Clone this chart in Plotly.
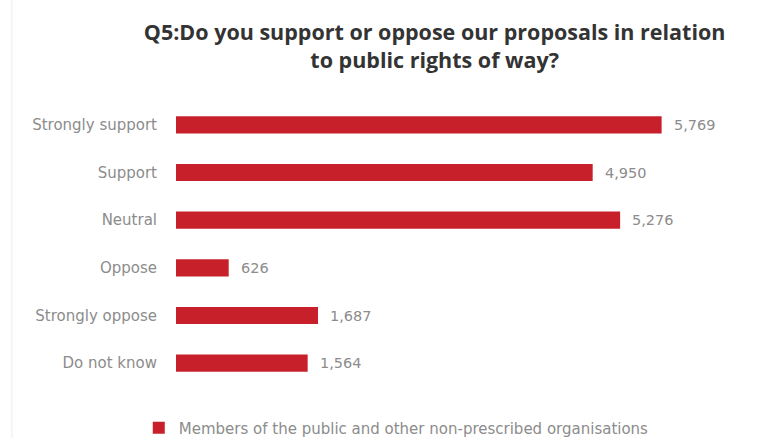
import plotly.graph_objects as go

# Survey responses
categories = ["Strongly support", "Support", "Neutral", "Oppose", "Strongly oppose", "Do not know"]
counts = [5769, 4950, 5276, 626, 1687, 1564]
series_name = "Members of the public and other non-prescribed organisations"
title_text = "Q5:Do you support or oppose our proposals in relation<br>to public rights of way?"

bar_color = "#C8202B"
label_color = "#8c8c8c"
title_font = "Open Sans, Liberation Sans, sans-serif"
body_font = "DejaVu Sans, sans-serif"

fig = go.Figure()
fig.add_trace(go.Bar(
    y=categories,
    x=counts,
    orientation="h",
    name=series_name,
    marker=dict(color=bar_color, line=dict(width=0)),
    width=0.36,
    showlegend=True,
))

# Value labels placed just past each bar end
for cat, val in zip(categories, counts):
    fig.add_annotation(
        x=val, y=cat, text=f"{val:,}", showarrow=False,
        xanchor="left", xshift=10,
        font=dict(family=body_font, size=14.5, color=label_color),
    )

# faint frame line on the left edge
fig.add_shape(type="line", xref="paper", yref="paper",
              x0=-0.291, x1=-0.291, y0=-0.2, y1=1.4,
              line=dict(color="#ececec", width=1))

fig.update_layout(
    width=772, height=438,
    margin=dict(l=176, r=32, t=101, b=51, autoexpand=False),
    paper_bgcolor="white",
    plot_bgcolor="white",
    title=dict(
        text=title_text,
        x=0.563, xanchor="center",
        y=0.908, yanchor="top",
        font=dict(family=title_font, size=21.5, color="#333333", weight="bold"),
    ),
    xaxis=dict(range=[0, 6700], visible=False),
    yaxis=dict(
        categoryorder="array", categoryarray=categories[::-1],
        showgrid=False, zeroline=False, showline=False, ticks="",
        ticklabelstandoff=18,
        tickfont=dict(family=body_font, size=15, color=label_color),
    ),
    legend=dict(
        orientation="h", x=-0.066, xanchor="left",
        y=-0.143, yanchor="middle",
        font=dict(family=body_font, size=15, color=label_color),
    ),
    bargap=0.64,
)

fig.write_html("out.html")
